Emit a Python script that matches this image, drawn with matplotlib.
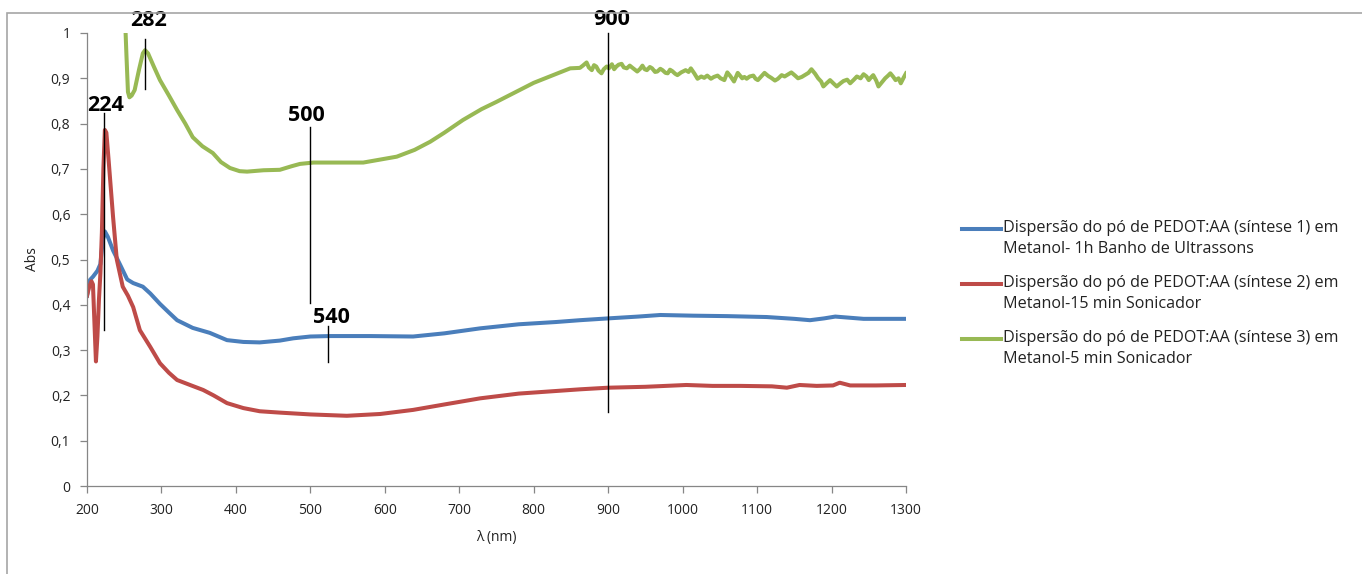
import numpy as np
import matplotlib.pyplot as plt
from matplotlib.lines import Line2D
from matplotlib.patches import Rectangle

plt.rcParams['font.family'] = ['Open Sans', 'DejaVu Sans']

# espectros UV-Vis-NIR (lambda em nm, absorbância)
wl_s1 = [200, 204, 208, 214, 218, 221, 224, 228, 235, 244, 254, 262, 275, 285,
         298, 310, 321, 342, 365, 388, 410, 432, 459, 477, 500, 526, 580, 638,
         680, 728, 780, 830, 862, 900, 940, 970, 1014, 1060, 1113, 1150, 1171,
         1190, 1205, 1243, 1300]
abs_s1 = [0.42, 0.455, 0.462, 0.475, 0.49, 0.54, 0.562, 0.55, 0.52, 0.49, 0.456,
          0.448, 0.44, 0.425, 0.402, 0.383, 0.366, 0.349, 0.338, 0.322, 0.318,
          0.317, 0.321, 0.326, 0.33, 0.331, 0.331, 0.33, 0.337, 0.348, 0.357,
          0.362, 0.366, 0.37, 0.374, 0.3775, 0.376, 0.375, 0.373, 0.369, 0.366,
          0.37, 0.374, 0.369, 0.369]

wl_s2 = [200, 203, 206, 208, 210, 212, 214, 216, 218, 220, 222, 224, 226, 229,
         235, 240, 248, 255, 262, 271, 285, 298, 310, 321, 340, 356, 370, 388,
         410, 432, 459, 500, 549, 594, 638, 680, 728, 780, 862, 900, 950, 1005,
         1040, 1077, 1120, 1140, 1157, 1180, 1202, 1211, 1225, 1260, 1300]
abs_s2 = [0.42, 0.44, 0.452, 0.445, 0.36, 0.275, 0.33, 0.41, 0.47, 0.56, 0.70,
          0.786, 0.78, 0.72, 0.594, 0.50, 0.44, 0.42, 0.395, 0.344, 0.307,
          0.271, 0.25, 0.234, 0.222, 0.212, 0.2, 0.183, 0.172, 0.165, 0.162,
          0.158, 0.155, 0.159, 0.168, 0.18, 0.1935, 0.204, 0.2134, 0.217,
          0.219, 0.223, 0.221, 0.221, 0.22, 0.217, 0.223, 0.221, 0.222, 0.228,
          0.222, 0.222, 0.223]

wl_s3 = [250, 253, 255, 257, 260, 264, 270, 275, 278, 282, 290, 298, 310, 321,
         332, 342, 355, 369, 380, 392, 405, 415, 437, 459, 475, 486, 504, 571,
         616, 640, 661, 680, 705, 730, 750, 781, 800, 820, 849, 862, 866, 871,
         874, 878, 881, 884, 887, 891, 894, 898, 901, 905, 908, 911, 914, 918,
         921, 925, 929, 932, 936, 939, 943, 946, 949, 952, 956, 959, 963, 966,
         970, 973, 977, 980, 983, 986, 990, 993, 998, 1004, 1008, 1011, 1016,
         1020, 1025, 1029, 1033, 1038, 1042, 1047, 1051, 1056, 1060, 1064, 1069,
         1074, 1080, 1083, 1086, 1090, 1095, 1098, 1101, 1106, 1110, 1115, 1119,
         1124, 1128, 1133, 1137, 1142, 1146, 1151, 1155, 1160, 1164, 1169, 1173,
         1178, 1182, 1186, 1189, 1194, 1198, 1203, 1207, 1212, 1216, 1221, 1225,
         1230, 1234, 1239, 1243, 1247, 1250, 1253, 1256, 1260, 1263, 1268, 1272,
         1276, 1279, 1283, 1286, 1290, 1293, 1297, 1300]
abs_s3 = [1.08, 0.95, 0.87, 0.858, 0.862, 0.874, 0.92, 0.955, 0.962, 0.955,
          0.925, 0.896, 0.862, 0.83, 0.80, 0.77, 0.75, 0.735, 0.715, 0.702,
          0.695, 0.694, 0.697, 0.698, 0.706, 0.711, 0.714, 0.714, 0.727, 0.742,
          0.76, 0.78, 0.808, 0.832, 0.848, 0.874, 0.89, 0.903, 0.922, 0.923,
          0.928, 0.935, 0.924, 0.918, 0.929, 0.926, 0.917, 0.911, 0.92, 0.926,
          0.922, 0.931, 0.92, 0.926, 0.93, 0.932, 0.924, 0.922, 0.928, 0.924,
          0.919, 0.915, 0.921, 0.928, 0.92, 0.918, 0.925, 0.922, 0.914, 0.915,
          0.921, 0.918, 0.912, 0.911, 0.919, 0.916, 0.91, 0.907, 0.913, 0.918,
          0.914, 0.922, 0.91, 0.899, 0.904, 0.901, 0.906, 0.899, 0.903, 0.906,
          0.9, 0.896, 0.913, 0.905, 0.893, 0.912, 0.9, 0.903, 0.899, 0.904,
          0.906, 0.899, 0.896, 0.905, 0.912, 0.905, 0.901, 0.895, 0.899, 0.907,
          0.904, 0.909, 0.913, 0.906, 0.9, 0.903, 0.907, 0.912, 0.92, 0.91, 0.9,
          0.893, 0.882, 0.89, 0.896, 0.888, 0.882, 0.889, 0.894, 0.897, 0.889,
          0.897, 0.904, 0.9, 0.909, 0.904, 0.896, 0.902, 0.907, 0.895, 0.882,
          0.892, 0.9, 0.906, 0.911, 0.903, 0.896, 0.9, 0.889, 0.902, 0.911]

labels = ["Dispersão do pó de PEDOT:AA (síntese 1) em\nMetanol- 1h Banho de Ultrassons",
          "Dispersão do pó de PEDOT:AA (síntese 2) em\nMetanol-15 min Sonicador",
          "Dispersão do pó de PEDOT:AA (síntese 3) em\nMetanol-5 min Sonicador"]
colors = ['#4a7ebb', '#be4b48', '#98b954']

# marcações: texto, posição do texto, segmento vertical (x, y0, y1)
marks = [("224", 225.5, 0.841, 223, 0.344, 0.823),
         ("282", 282, 1.027, 278, 0.876, 0.987),
         ("500", 495, 0.817, 499.5, 0.405, 0.793),
         ("540", 528, 0.373, 524, 0.274, 0.353),
         ("900", 905, 1.029, 900, 0.163, 1.0)]

W, H = 1362, 574
fig = plt.figure(figsize=(W / 100, H / 100), dpi=100)
ax = fig.add_axes([87 / W, 1 - 486 / H, (906 - 87) / W, (486 - 33) / H])

ax.plot(wl_s1, abs_s1, color=colors[0], lw=2.9, solid_joinstyle='round')
ax.plot(wl_s2, abs_s2, color=colors[1], lw=2.9, solid_joinstyle='round')
ax.plot(wl_s3, abs_s3, color=colors[2], lw=2.9, solid_joinstyle='round')

for txt, tx, ty, lx, y0, y1 in marks:
    ax.plot([lx, lx], [y0, y1], color='black', lw=1.0, clip_on=False)
    ax.text(tx, ty, txt, ha='center', va='center', fontsize=15.5,
            fontweight='bold', clip_on=False)

ax.set_xlim(200, 1300)
ax.set_ylim(0, 1)
ax.set_xticks(np.arange(200, 1301, 100))
ax.set_yticks(np.arange(0, 1.01, 0.1))
ax.set_yticklabels([f"{v:.1f}".replace('.', ',').replace('0,0', '0').replace('1,0', '1')
                    for v in np.arange(0, 1.01, 0.1)])
for s in ['top', 'right']:
    ax.spines[s].set_visible(False)
for s in ['left', 'bottom']:
    ax.spines[s].set_color('#868686')
    ax.spines[s].set_linewidth(0.9)
ax.tick_params(direction='out', length=5, width=0.9, color='#868686',
               labelsize=10, labelcolor='#222222', pad=7)
ax.set_xlabel("λ (nm)", fontsize=10, color='#222222', labelpad=9)
ax.set_ylabel("Abs", fontsize=10, color='#222222', labelpad=8)

# legenda desenhada à mão (traço alinhado à primeira linha do texto)
for c, lab, yp in zip(colors, labels, [229, 284, 339]):
    fig.add_artist(Line2D([962 / W, 1001 / W], [1 - yp / H] * 2, color=c, lw=2.9))
    fig.text(1003 / W, 1 - (yp - 9) / H, lab, fontsize=11.6, va='top',
             color='#222222', linespacing=1.42)

# contorno da área do gráfico
fig.add_artist(Rectangle((7 / W, -0.1), 1.2, 1.1 - 13 / H, transform=fig.transFigure,
                         fill=False, edgecolor='#a6a6a6', lw=1.2))

fig.savefig("out.png", dpi=100)
